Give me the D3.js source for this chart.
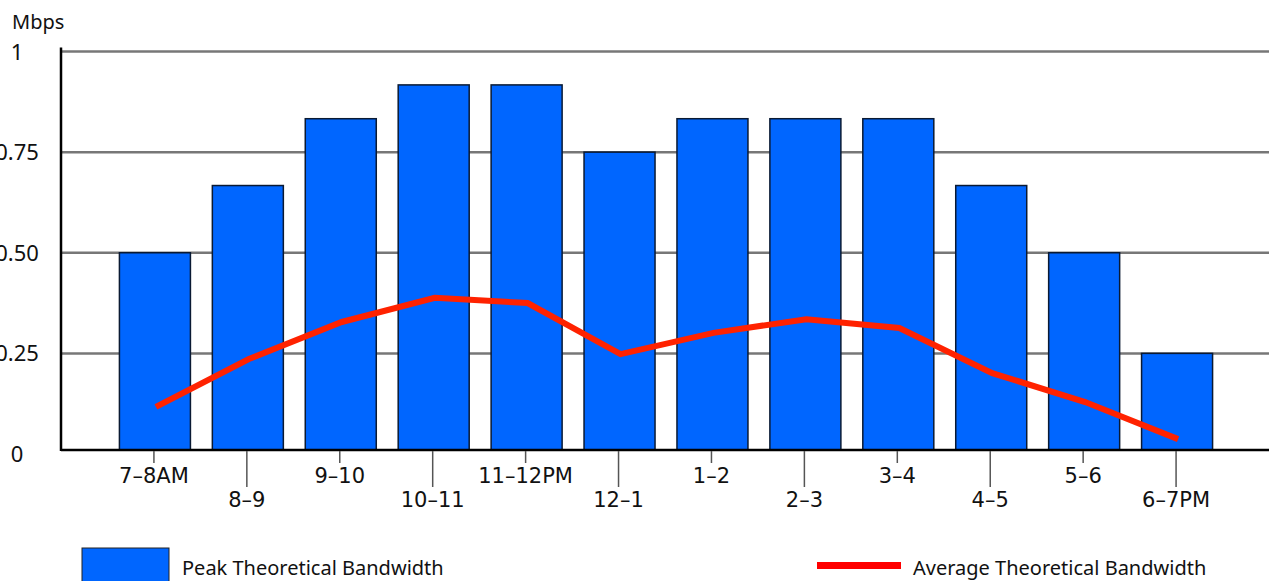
<!DOCTYPE html>
<html><head><meta charset="utf-8">
<script src="https://cdn.jsdelivr.net/npm/d3@7"></script>
<style>
html,body{margin:0;padding:0;background:#fff;overflow:hidden}
svg{display:block}
</style></head>
<body>
<svg id="chart" width="1269" height="581"></svg>
<script>
const categories = ["7–8AM","8–9","9–10","10–11","11–12PM","12–1","1–2","2–3","3–4","4–5","5–6","6–7PM"];
const peakValues = [0.5, 0.667, 0.833, 0.917, 0.917, 0.75, 0.833, 0.833, 0.833, 0.667, 0.5, 0.25];
const avgValues = [0.117, 0.236, 0.328, 0.388, 0.375, 0.248, 0.301, 0.335, 0.313, 0.201, 0.129, 0.037];
const yTicks = [0, 0.25, 0.5, 0.75, 1];
const yTickLabels = ["0", "0.25", "0.50", "0.75", "1"];
const seriesNames = ["Peak Theoretical Bandwidth", "Average Theoretical Bandwidth"];
const yUnit = "Mbps";

const svg = d3.select("#chart");
const plotLeft = 61, plotRight = 1269, plotTop = 51.5, axisY = 450, zeroY = 454;

const x = d3.scalePoint().domain(categories).range([plotLeft, plotRight]).padding(1);
const y = d3.scaleLinear().domain([0, 1]).range([zeroY, plotTop]);
const barW = 71;
const sideFont = "'Noto Sans', sans-serif";
const tickFont = "'DejaVu Sans', sans-serif";

// gridlines
svg.append("g").selectAll("line").data(yTicks.filter(d => d > 0)).join("line")
  .attr("x1", plotLeft).attr("x2", plotRight)
  .attr("y1", d => y(d)).attr("y2", d => y(d))
  .attr("stroke", "#777").attr("stroke-width", 2.5);

// y labels
svg.append("g").selectAll("text").data(yTicks).join("text")
  .attr("x", 17).attr("y", d => y(d) - 1)
  .attr("text-anchor", "middle").attr("dominant-baseline", "central")
  .attr("font-family", sideFont).attr("font-size", 22).attr("fill", "#111")
  .text((d, i) => yTickLabels[i]);

svg.append("text").attr("x", 12).attr("y", 29)
  .attr("font-family", sideFont).attr("font-size", 20).attr("fill", "#111")
  .text(yUnit);

// bars
svg.append("g").selectAll("rect").data(categories).join("rect")
  .attr("x", d => x(d) - barW / 2 + 1)
  .attr("y", (d, i) => y(peakValues[i]))
  .attr("width", barW)
  .attr("height", (d, i) => axisY - y(peakValues[i]))
  .attr("fill", "#0066ff").attr("stroke", "#0a1a33").attr("stroke-width", 1.5);

// line
const line = d3.line().x((d, i) => x(categories[i]) + 2).y(d => y(d));
svg.append("path").datum(avgValues).attr("d", line)
  .attr("fill", "none").attr("stroke", "#ff2200").attr("stroke-width", 6)
  .attr("stroke-linejoin", "miter");

// axes lines
svg.append("line").attr("x1", plotLeft).attr("x2", plotLeft).attr("y1", plotTop - 4).attr("y2", axisY + 1)
  .attr("stroke", "#000").attr("stroke-width", 2.5);
svg.append("line").attr("x1", plotLeft).attr("x2", plotRight).attr("y1", axisY).attr("y2", axisY)
  .attr("stroke", "#000").attr("stroke-width", 2.5);

// x ticks and labels
const xg = svg.append("g");
xg.selectAll("line").data(categories).join("line")
  .attr("x1", d => x(d)).attr("x2", d => x(d))
  .attr("y1", axisY + 1).attr("y2", (d, i) => i % 2 === 0 ? 463 : 487)
  .attr("stroke", "#555").attr("stroke-width", 1.5);
xg.selectAll("text").data(categories).join("text")
  .attr("x", d => x(d)).attr("y", (d, i) => i % 2 === 0 ? 483 : 507)
  .attr("text-anchor", "middle")
  .attr("font-family", tickFont).attr("font-size", 21).attr("fill", "#111")
  .text(d => d);

// legend
const lg = svg.append("g");
lg.append("rect").attr("x", 82).attr("y", 548).attr("width", 87).attr("height", 40)
  .attr("fill", "#0066ff").attr("stroke", "#222").attr("stroke-width", 1);
lg.append("text").attr("x", 182).attr("y", 575)
  .attr("font-family", sideFont).attr("font-size", 20).attr("fill", "#111")
  .text(seriesNames[0]);
lg.append("line").attr("x1", 817).attr("x2", 901).attr("y1", 565.5).attr("y2", 565.5)
  .attr("stroke", "#ff0000").attr("stroke-width", 7);
lg.append("text").attr("x", 913).attr("y", 575)
  .attr("font-family", sideFont).attr("font-size", 20).attr("fill", "#111")
  .text(seriesNames[1]);
</script>
</body></html>
